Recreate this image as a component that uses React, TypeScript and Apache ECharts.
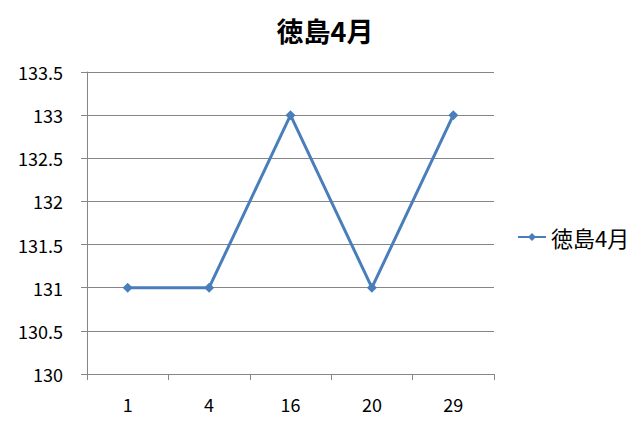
import React, { useRef, useEffect } from 'react';
import * as echarts from 'echarts';

const TITLE = '徳島4月';
const SERIES_NAME = '徳島4月';
const DAYS = ['1', '4', '16', '20', '29'];
const VALUES = [131, 131, 133, 131, 133];
const Y_MIN = 130;
const Y_MAX = 133.5;
const Y_STEP = 0.5;

const LINE_COLOR = '#4a7ebb';
const GRID_COLOR = '#868686';
const FONT = '"Noto Sans CJK JP", "Noto Sans", sans-serif';

export default function App() {
  const ref = useRef<HTMLDivElement>(null);

  useEffect(() => {
    if (!ref.current) return;
    const chart = echarts.init(ref.current, undefined, { renderer: 'svg' });
    chart.setOption({
      animation: false,
      backgroundColor: '#ffffff',
      textStyle: { fontFamily: FONT },
      title: {
        text: TITLE,
        left: 320,
        top: 12,
        textAlign: 'center',
        textStyle: { fontSize: 27, fontWeight: 'bold', color: '#000', fontFamily: FONT },
      },
      legend: {
        data: [SERIES_NAME],
        orient: 'vertical',
        left: 512,
        top: 221,
        itemWidth: 28,
        itemHeight: 10,
        itemGap: 4,
        textStyle: { fontSize: 22, color: '#000', fontFamily: FONT },
      },
      grid: { left: 87, top: 72, width: 407, height: 302, containLabel: false },
      xAxis: {
        type: 'category',
        data: DAYS,
        boundaryGap: true,
        axisLine: { lineStyle: { color: GRID_COLOR, width: 1 } },
        axisTick: { show: true, length: 6, lineStyle: { color: GRID_COLOR } },
        axisLabel: { fontSize: 18, color: '#000', margin: 21, fontFamily: FONT },
        splitLine: { show: false },
      },
      yAxis: {
        type: 'value',
        min: Y_MIN,
        max: Y_MAX,
        interval: Y_STEP,
        axisLine: { show: true, lineStyle: { color: GRID_COLOR, width: 1 } },
        axisTick: { show: true, length: 6, lineStyle: { color: GRID_COLOR } },
        axisLabel: { fontSize: 18, color: '#000', margin: 24, fontFamily: FONT },
        splitLine: { show: true, lineStyle: { color: GRID_COLOR, width: 1 } },
      },
      series: [
        {
          name: SERIES_NAME,
          type: 'line',
          data: VALUES,
          symbol: 'diamond',
          symbolSize: 10,
          lineStyle: { color: LINE_COLOR, width: 3 },
          itemStyle: { color: LINE_COLOR },
        },
      ],
    });
    return () => chart.dispose();
  }, []);

  return <div ref={ref} style={{ width: 642, height: 428, margin: -8 }} />;
}
